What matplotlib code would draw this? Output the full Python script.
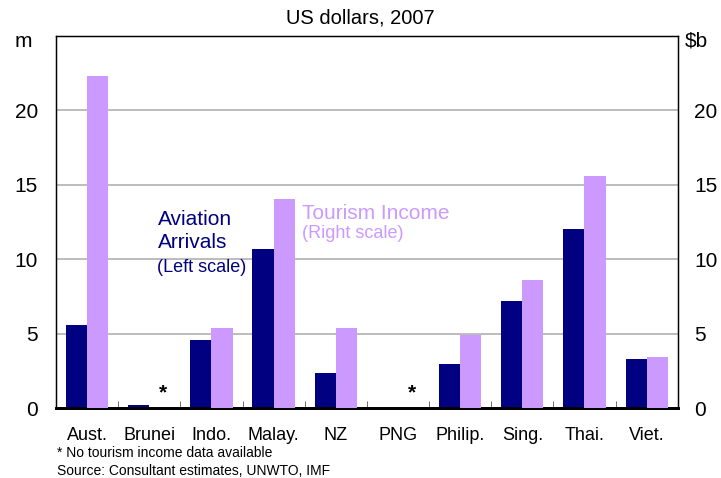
import numpy as np
import matplotlib
matplotlib.use("Agg")
import matplotlib.pyplot as plt

plt.rcParams['font.family'] = ['Liberation Sans', 'DejaVu Sans']

countries = ['Aust.', 'Brunei', 'Indo.', 'Malay.', 'NZ', 'PNG', 'Philip.', 'Sing.', 'Thai.', 'Viet.']
arrivals = [5.55, 0.2, 4.55, 10.7, 2.35, 0.05, 2.95, 7.2, 12.0, 3.3]
income = [22.3, 0.0, 5.35, 14.05, 5.4, 0.0, 4.9, 8.6, 15.6, 3.4]
no_data = ['Brunei', 'PNG']

navy = '#000080'
lilac = '#cc99ff'

fig = plt.figure(figsize=(7.21, 4.78), dpi=100)
ax = fig.add_axes([0.0777, 0.1464, 0.8623, 0.7783])
ax2 = ax.twinx()

x = np.arange(len(countries))
w = 0.34
ax.bar(x - w / 2, arrivals, w, color=navy, zorder=3)
ax2.bar(x + w / 2, income, w, color=lilac, zorder=3)

for name in no_data:
    i = countries.index(name)
    ax2.text(x[i] + w / 2 + 0.05, 1.0, '*', ha='center', va='center', fontsize=15,
             fontweight='bold', color='black')

for a in (ax, ax2):
    a.set_ylim(0, 25)
    a.set_yticks([0, 5, 10, 15, 20])
    a.set_xlim(-0.5, len(countries) - 0.5)
ax.tick_params(axis='y', length=0, labelsize=15, pad=13)
ax2.tick_params(axis='y', length=0, labelsize=15, pad=12)
ax.yaxis.grid(True, color='#b0b0b0', linewidth=1.2, zorder=0)
ax.set_axisbelow(True)

ax.set_xticks(x)
ax.set_xticklabels(countries, fontsize=13)
ax.tick_params(axis='x', length=0, pad=14)
ax.set_xticks(x[:-1] + 0.5, minor=True)
ax.tick_params(axis='x', which='minor', direction='in', length=5, color='#555555')

for s in ax.spines.values():
    s.set_linewidth(1.0)
ax.spines['bottom'].set_linewidth(2)
ax2.spines['bottom'].set_linewidth(2)

fig.text(0.5, 0.962, 'US dollars, 2007', ha='center', va='center', fontsize=14.5)
fig.text(0.033, 0.914, 'm', ha='center', va='center', fontsize=15)
fig.text(0.966, 0.914, '$b', ha='center', va='center', fontsize=15)

# labels go on ax2 so they sit above both sets of bars
ax2.text(1.14, 12.7, 'Aviation', color=navy, ha='left', va='center', fontsize=15, zorder=5)
ax2.text(1.14, 11.1, 'Arrivals', color=navy, ha='left', va='center', fontsize=15, zorder=5)
ax2.text(1.12, 9.45, '(Left scale)', color=navy, ha='left', va='center', fontsize=13, zorder=5)
ax2.text(3.455, 13.1, 'Tourism Income', color=lilac, ha='left', va='center', fontsize=15, zorder=5)
ax2.text(3.455, 11.7, '(Right scale)', color=lilac, ha='left', va='center', fontsize=13, zorder=5)

fig.text(0.079, 0.052, '* No tourism income data available', fontsize=10, va='center')
fig.text(0.079, 0.0146, 'Source: Consultant estimates, UNWTO, IMF', fontsize=10, va='center')

fig.savefig('out.png', dpi=100)
